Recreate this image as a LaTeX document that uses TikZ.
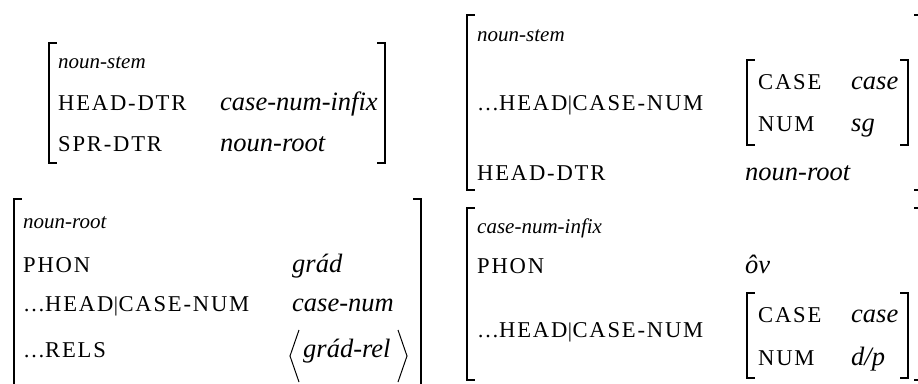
\documentclass[tikz,border=0pt]{standalone}
\usepackage{fontspec}
\setmainfont{Liberation Serif}
\newfontfamily\featfamily[LetterSpace=8]{Liberation Serif}
\newfontfamily\valfamily{Liberation Serif Italic}
\newcommand\featsz{\featfamily\fontsize{22.6}{26}\selectfont}
\newcommand\valsz{\valfamily\fontsize{26.5}{30}\selectfont}
\newcommand\typesz{\valfamily\fontsize{21}{24}\selectfont}
\newcommand\pathdots{{\rmfamily\upshape\fontsize{22}{24}\selectfont …}}
\newcommand\pathbar{\kern0.5pt{\rmfamily\fontsize{21}{24}\selectfont|}\kern0.5pt}
\tikzset{
  feat/.style={anchor=base west, inner sep=0pt, font=\featsz},
  val/.style={anchor=base west, inner sep=0pt, font=\valsz},
  typ/.style={anchor=base west, inner sep=0pt, font=\typesz},
  brk/.style={line width=2.2pt, line join=miter, line cap=rect},
  ang/.style={line width=1pt},
}
% left bracket: x, top, bottom
\newcommand\lbrk[3]{\draw[brk] (#1+7,#2) -- (#1,#2) -- (#1,#3) -- (#1+7,#3);}
% right bracket: x, top, bottom
\newcommand\rbrk[3]{\draw[brk] (#1-7,#2) -- (#1,#2) -- (#1,#3) -- (#1-7,#3);}
\begin{document}
\begin{tikzpicture}[x=1pt,y=-1pt]
\useasboundingbox (0,0) rectangle (918,383);
\clip (0,0) rectangle (918,383);

% noun-stem: head and specifier daughters
\lbrk{49}{43}{163}
\rbrk{385}{43}{163}
\node[typ]  (s1t)  at (58,68)  {noun-stem};
\node[feat] (s1hf) at (58,110) {HEAD-DTR};
\node[val]  (s1hv) at (220,110) {case-num-infix};
\node[feat] (s1sf) at (58,151) {SPR-DTR};
\node[val]  (s1sv) at (220,151) {noun-root};

% noun-stem: case and number
\lbrk{467}{15}{190}
\rbrk{922}{15}{190}
\node[typ]  (s2t)  at (477,41)  {noun-stem};
\node[feat] (s2cf) at (477,110) {\pathdots HEAD\pathbar CASE-NUM};
\lbrk{747}{60}{145}
\rbrk{908}{60}{145}
\node[feat] (s2cc) at (758,89)  {CASE};
\node[val]  (s2cv) at (851,89)  {case};
\node[feat] (s2nf) at (758,131) {NUM};
\node[val]  (s2nv) at (851,131) {sg};
\node[feat] (s2hf) at (477,180) {HEAD-DTR};
\node[val]  (s2hv) at (745,180) {noun-root};

% noun-root
\lbrk{14}{199}{400}
\rbrk{421}{199}{400}
\node[typ]  (rt)  at (23,228)  {noun-root};
\node[feat] (rpf) at (23,272)  {PHON};
\node[val]  (rpv) at (292,272) {grád};
\node[feat] (rcf) at (23,311)  {\pathdots HEAD\pathbar CASE-NUM};
\node[val]  (rcv) at (292,311) {case-num};
\node[feat] (rrf) at (23,357)  {\pathdots RELS};
\node[val]  (rrv) at (303,357) {grád-rel};
\draw[ang] (299,330) -- (290,356) -- (299,382);
\draw[ang] (398,330) -- (407,356) -- (398,382);

% case-num-infix
\lbrk{467}{208}{380}
\rbrk{922}{208}{380}
\node[typ]  (it)  at (477,233) {case-num-infix};
\node[feat] (ipf) at (477,273) {PHON};
\node[val]  (ipv) at (745,273) {ôv};
\node[feat] (icf) at (477,337) {\pathdots HEAD\pathbar CASE-NUM};
\lbrk{747}{293}{378}
\rbrk{908}{293}{378}
\node[feat] (icc) at (758,322) {CASE};
\node[val]  (icv) at (851,322) {case};
\node[feat] (inf) at (758,365) {NUM};
\node[val]  (inv) at (851,365) {d/p};
\end{tikzpicture}
\end{document}
